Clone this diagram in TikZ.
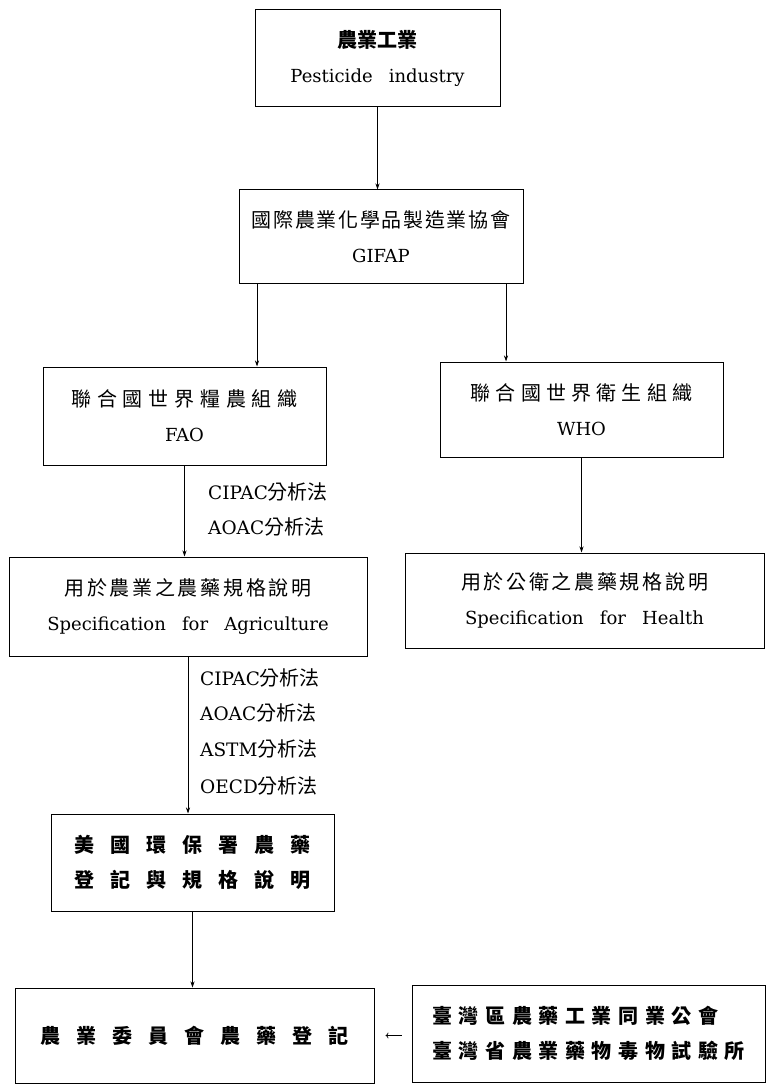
\documentclass[tikz,border=0pt]{standalone}
\usepackage{fontspec}
\setmainfont{DejaVu Serif}
\newfontfamily\cjk{Noto Sans CJK TC}
\usetikzlibrary{arrows.meta}
\makeatletter
\newcommand\spc[2]{\@tfor\sp@c:=#2\do{\sp@c\hspace{#1}}\unskip}
\makeatother
\newcommand\zh[2][0pt]{{\fontsize{20}{35}\selectfont\cjk\spc{#1}{#2}}}
\newcommand\zhb[2][0pt]{{\fontsize{20}{35}\selectfont\cjk\bfseries\spc{#1}{#2}}}
\newcommand\ws{\hspace{0.9em}}
\begin{document}
\begin{tikzpicture}[x=1pt,y=-1pt,
  box/.style={draw, line width=1pt, inner sep=0pt, align=center, font=\fontsize{18}{35}\selectfont},
  arr/.style={line width=0.8pt, -{Stealth[length=6pt,width=4pt]}},
  larr/.style={line width=0.7pt, -{To[length=3pt,width=6pt]}},
  lbl/.style={anchor=west, inner sep=0pt, font=\fontsize{18.5}{24}\selectfont}]
\useasboundingbox (0,0) rectangle (766,1086);

\node[box, minimum width=245pt, minimum height=97pt] (ind) at (377.5,58.5)
  {\zhb{農業工業}\\Pesticide\ws industry};
\node[box, minimum width=284pt, minimum height=93pt] (gifap) at (381,236.5)
  {\zh[1.7pt]{國際農業化學品製造業協會}\\GIFAP};
\node[box, minimum width=283pt, minimum height=98pt] (fao) at (184.5,416)
  {\zh[5.8pt]{聯合國世界糧農組織}\\FAO};
\node[box, minimum width=283pt, minimum height=95pt] (who) at (581.5,409.5)
  {\zh[5.2pt]{聯合國世界衛生組織}\\WHO};
\node[box, minimum width=358pt, minimum height=99pt] (agri) at (188,606.5)
  {\zh[2.7pt]{用於農業之農藥規格說明}\\Specification\ws for\ws Agriculture};
\node[box, minimum width=359pt, minimum height=95pt] (health) at (584.5,600.5)
  {\zh[2.7pt]{用於公衛之農藥規格說明}\\Specification\ws for\ws Health};
\node[box, minimum width=283pt, minimum height=97pt] (epa) at (192.5,862.5)
  {\zhb[16pt]{美國環保署農藥}\\\zhb[16pt]{登記與規格說明}};
\node[box, minimum width=359pt, minimum height=95pt] (coa) at (194.5,1035.5)
  {\zhb[16pt]{農業委員會農藥登記}};
\node[box, align=left, minimum width=353pt, minimum height=97pt] (tw) at (588.5,1033.5)
  {\zhb[6.6pt]{臺灣區農藥工業同業公會}\\\zhb[6.6pt]{臺灣省農業藥物毒物試驗所}};

\coordinate (xa) at (257,0);
\coordinate (xb) at (506,0);

\draw[arr] (ind.south) -- (ind.south |- gifap.north);
\draw[arr] (gifap.south -| xa) -- (fao.north -| xa);
\draw[arr] (gifap.south -| xb) -- (who.north -| xb);
\draw[arr] (fao.south) -- (fao.south |- agri.north);
\draw[arr] (who.south) -- (who.south |- health.north);
\draw[arr] (agri.south) -- (agri.south |- epa.north);
\draw[arr] (epa.south) -- (epa.south |- coa.north);
\draw[larr, shorten <=10pt, shorten >=11pt] (tw.west |- coa.east) -- (coa.east);

\node[lbl] (c1) at (208,492) {CIPAC\zh{分析法}};
\node[lbl] (a1) at (208,527) {AOAC\zh{分析法}};
\node[lbl] (c2) at (200,678) {CIPAC\zh{分析法}};
\node[lbl] (a2) at (200,713) {AOAC\zh{分析法}};
\node[lbl] (s2) at (200,749) {ASTM\zh{分析法}};
\node[lbl] (o2) at (200,786) {OECD\zh{分析法}};
\end{tikzpicture}
\end{document}
